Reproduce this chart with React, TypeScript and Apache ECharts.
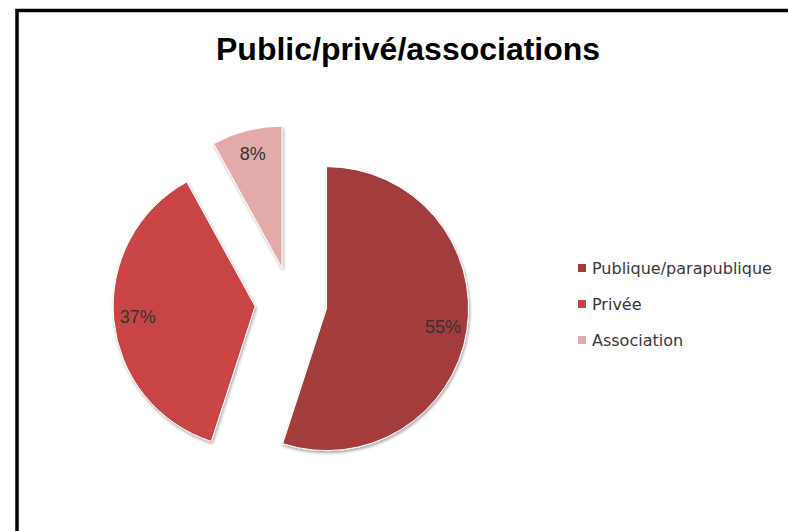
import React, { useEffect, useRef } from "react";
import * as echarts from "echarts";

const titleText = "Public/privé/associations";
const categories = ["Publique/parapublique", "Privée", "Association"];
const values = [55, 37, 8];
const colors = ["#A33D3D", "#C94444", "#E3AAAA"];

export default function App() {
  const ref = useRef<HTMLDivElement>(null);
  useEffect(() => {
    if (!ref.current) return;
    const chart = echarts.init(ref.current, undefined, { renderer: "svg" });
    const mainData = categories.map((name, i) => ({
      name,
      value: values[i],
      selected: true,
      itemStyle: { color: colors[i] },
    }));
    const labelData = categories.map((name, i) => ({
      name,
      value: values[i],
      selected: true,
    }));
    const center = [291, 303];
    chart.setOption({
      animation: false,
      backgroundColor: "#ffffff",
      title: {
        text: titleText,
        left: 216,
        top: 33,
        padding: 0,
        textStyle: {
          fontFamily: "Liberation Sans",
          fontWeight: "bold",
          fontSize: 32,
          color: "#000000",
        },
      },
      legend: {
        orient: "vertical",
        left: 576,
        top: 258,
        padding: 0,
        itemWidth: 10,
        itemHeight: 10,
        itemGap: 16,
        icon: "rect",
        data: categories,
        selectedMode: false,
        textStyle: {
          fontFamily: "DejaVu Sans",
          fontSize: 16,
          lineHeight: 20,
          color: "#383838",
        },
      },
      graphic: [
        {
          type: "rect",
          shape: { x: 17, y: 10.5, width: 900, height: 700 },
          style: { fill: "none", stroke: "#000000", lineWidth: 3.5 },
          silent: true,
          z: 100,
        },
      ],
      series: [
        {
          type: "pie",
          center,
          radius: 142,
          startAngle: 90,
          clockwise: true,
          selectedMode: "multiple",
          selectedOffset: 36,
          avoidLabelOverlap: false,
          label: { show: false },
          labelLine: { show: false },
          itemStyle: {
            borderColor: "#ffffff",
            borderWidth: 1,
            shadowBlur: 3,
            shadowOffsetX: 1,
            shadowOffsetY: 2,
            shadowColor: "rgba(0,0,0,0.35)",
          },
          emphasis: { disabled: true },
          select: { itemStyle: { borderColor: "#ffffff", borderWidth: 1 } },
          data: mainData,
        },
        {
          type: "pie",
          center,
          radius: [88, 142],
          startAngle: 90,
          clockwise: true,
          selectedMode: "multiple",
          selectedOffset: 36,
          silent: true,
          avoidLabelOverlap: false,
          itemStyle: { color: "rgba(0,0,0,0)", borderWidth: 0 },
          select: { itemStyle: { color: "rgba(0,0,0,0)", borderWidth: 0 } },
          emphasis: { disabled: true },
          label: {
            show: true,
            position: "inside",
            formatter: "{c}%",
            fontFamily: "Liberation Sans",
            fontSize: 18,
            color: "#333333",
          },
          labelLine: { show: false },
          data: labelData,
        },
      ],
    });
    return () => chart.dispose();
  }, []);
  return (
    <div
      ref={ref}
      style={{ position: "fixed", left: 0, top: 0, width: 788, height: 531, background: "#fff" }}
    />
  );
}
